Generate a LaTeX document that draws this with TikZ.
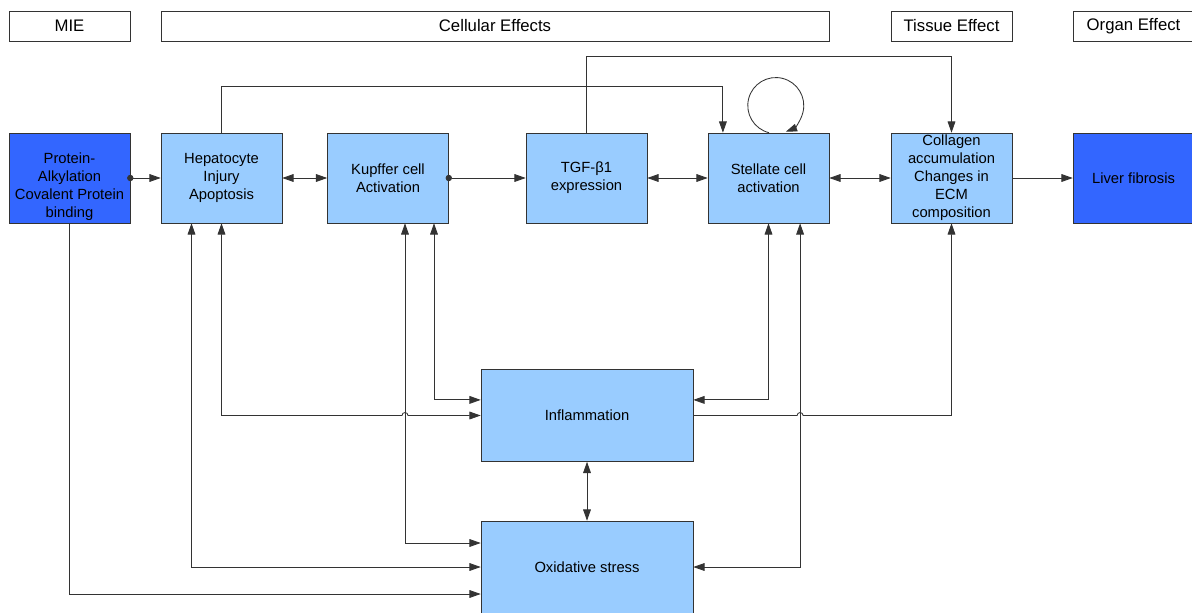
\documentclass[tikz,border=0pt]{standalone}
\usepackage{fontspec}
\setsansfont{Liberation Sans}
\usetikzlibrary{positioning, arrows.meta, calc}
\definecolor{bLight}{HTML}{99CCFF}
\definecolor{bDark}{HTML}{3366FF}
\definecolor{bLine}{HTML}{333333}

\begin{document}
\begin{tikzpicture}[
  every node/.style={font=\sffamily},
  >={Triangle[length=8pt, width=5.5pt]},
  hdr/.style={draw=bLine, fill=white, minimum height=0.75cm, inner sep=0pt,
              font=\sffamily\fontsize{11.9}{14}\selectfont},
  kebox/.style={draw=bLine, fill=bLight, minimum width=3.025cm, minimum height=2.25cm,
                inner sep=1pt, align=center, font=\sffamily\fontsize{10.5}{12.8}\selectfont},
  aobox/.style={kebox, fill=bDark},
  widebox/.style={kebox, minimum width=5.3cm, minimum height=2.3cm},
  ln/.style={draw=bLine, line width=0.6pt},
]
  \useasboundingbox (0,0) rectangle (29.8,-15.3);

  % header row
  \node[hdr, minimum width=3.025cm] (hMIE) at (1.7375,-0.65) {MIE};
  \node[hdr, minimum width=16.7cm] (hCell) at (12.375,-0.65) {Cellular Effects};
  \node[hdr, minimum width=3.025cm] (hTissue) at (23.7875,-0.65) {Tissue Effect};
  \node[hdr, minimum width=3.025cm] (hOrgan) at (28.3375,-0.65) {Organ Effect};

  % key events
  \node[aobox] (prot) at (1.7375,-4.45) {\vphantom{P}\\Protein-\\Alkylation\\Covalent Protein\\binding};
  \node[kebox] (hep) at (5.5375,-4.45) {Hepatocyte\\Injury\\Apoptosis};
  \node[kebox] (kup) at (9.7,-4.45) {Kupffer cell\\Activation};
  \node[kebox] (tgf) at (14.6625,-4.45) {TGF-β1\\expression};
  \node[kebox] (stel) at (19.2125,-4.45) {Stellate cell\\activation};
  \node[kebox] (coll) at (23.7875,-4.45) {Collagen\\accumulation\\Changes in\\ECM\\composition};
  \node[aobox] (liver) at (28.3375,-4.45) {Liver fibrosis};

  \node[widebox] (infl) at (14.675,-10.3875) {Inflammation};
  \node[widebox] (oxi) at (14.675,-14.175) {Oxidative stress};

  % main row
  \draw[ln, {Circle[length=4.5pt]}->] ([xshift=-2.25pt]prot.east) -- (hep);
  \draw[ln, <->] (hep) -- (kup);
  \draw[ln, {Circle[length=4.5pt]}->] ([xshift=-2.25pt]kup.east) -- (tgf);
  \draw[ln, <->] (tgf) -- (stel);
  \draw[ln, <->] (stel) -- (coll);
  \draw[ln, ->] (coll) -- (liver);

  % feedback over the top
  \draw[ln, ->] (hep.north) -- ++(0,1.15) -| ([xshift=-1.14cm]stel.north);
  \draw[ln, ->] (tgf.north) -- ++(0,1.9) -| (coll.north);
  \draw[ln, ->] ([xshift=0.0125cm]stel.north) arc[start angle=256, end angle=-69, radius=0.7cm];

  % links down to inflammation and oxidative stress
  \coordinate (hepO) at ([xshift=-0.75cm]hep.south);
  \coordinate (kupO) at ([xshift=0.425cm]kup.south);
  \coordinate (kupI) at ([xshift=1.15cm]kup.south);
  \coordinate (stelO) at ([xshift=0.79cm]stel.south);

  \draw[ln, <->] (hep.south) |- ($(kupO |- infl.west)+(-0.075,0)$)
    arc[start angle=180, end angle=0, radius=0.075] -- (infl.west);
  \draw[ln, <->] (hepO) |- (oxi.west);
  \draw[ln, ->] (prot.south) |- ([yshift=-0.675cm]oxi.west);
  \draw[ln, <->] (kupI) |- ([yshift=0.39cm]infl.west);
  \draw[ln, <->] (kupO) |- ([yshift=0.6cm]oxi.west);
  \draw[ln, <->] (stel.south) |- ([yshift=0.39cm]infl.east);
  \draw[ln, <->] (stelO) |- (oxi.east);
  \draw[ln, ->] (infl.east) -- ($(stelO |- infl.east)+(-0.075,0)$)
    arc[start angle=180, end angle=0, radius=0.075] -| (coll.south);
  \draw[ln, <->] (infl) -- (oxi);
\end{tikzpicture}
\end{document}
